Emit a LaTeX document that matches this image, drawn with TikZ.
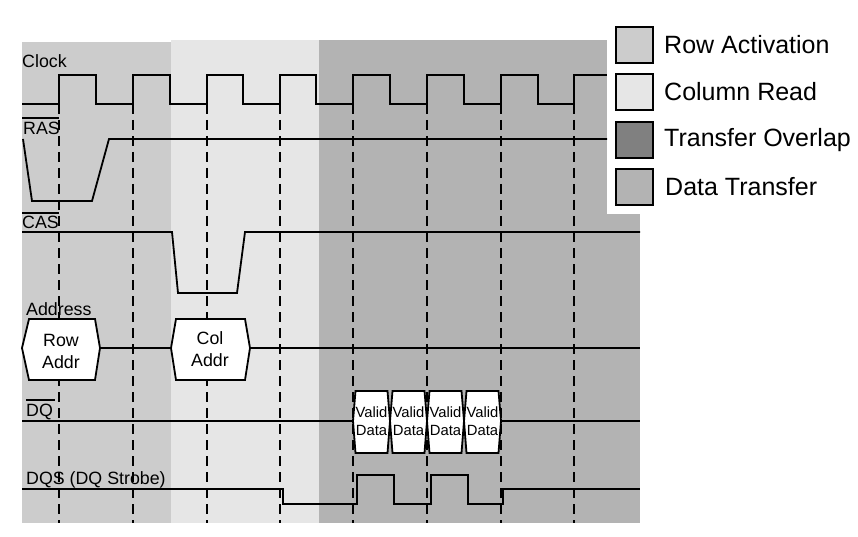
\documentclass[tikz,border=0pt]{standalone}
\usepackage{fontspec}
\setmainfont{Liberation Sans}
\definecolor{rowact}{HTML}{CCCCCC}
\definecolor{colread}{HTML}{E6E6E6}
\definecolor{overlap}{HTML}{808080}
\definecolor{datatr}{HTML}{B3B3B3}
\begin{document}
\begin{tikzpicture}[x=1pt,y=-1pt,
  sig/.style={line width=1.8pt, line join=miter},
  dsh/.style={line width=1.8pt, dash pattern=on 10pt off 6pt},
  lbl/.style={font=\fontsize{17.8}{20}\selectfont, inner sep=0pt, anchor=base west},
  ovl/.style={line width=1.2pt},
  busbox/.style={sig, fill=white},
  bustxt/.style={font=\fontsize{17.8}{22}\selectfont, align=center, inner sep=0pt},
  dtxt/.style={font=\fontsize{14.8}{18}\selectfont, align=center, inner sep=0pt},
  legbox/.style={draw, line width=2pt, minimum width=37pt, minimum height=36pt, inner sep=0pt},
  legtxt/.style={font=\fontsize{25}{30}\selectfont, anchor=west, inner sep=0pt}]
\useasboundingbox (0,0) rectangle (858,537);
\fill[white] (0,0) rectangle (858,537);
% phase backgrounds
\fill[rowact] (22,42) rectangle (171,523);
\fill[colread] (171,40) rectangle (319,523);
\fill[datatr] (319,40) rectangle (640,523);
% legend background
\fill[white] (607,0) rectangle (858,214);
% dashed clock edge markers
\foreach \x in {59,133,207,280,353,427,501,574}
  \draw[dsh] (\x,104) -- (\x,523);
% Clock
\node[lbl] (lclk) at (22,68) {Clock};
\draw[sig] (22,104) -- (59,104) -- (59,75) -- (96,75) -- (96,104) -- (133,104) -- (133,75) -- (170,75) -- (170,104)
  -- (207,104) -- (207,75) -- (243,75) -- (243,104) -- (280,104) -- (280,75) -- (316,75) -- (316,104)
  -- (353,104) -- (353,75) -- (390,75) -- (390,104) -- (427,104) -- (427,75) -- (464,75) -- (464,104)
  -- (501,104) -- (501,75) -- (538,75) -- (538,104) -- (574,104) -- (574,75) -- (607,75);
% RAS
\node[lbl] (lras) at (23,135) {RAS};
\draw[ovl] (22,118) -- (59,118);
\draw[sig] (23,139) -- (32,201) -- (92,201) -- (109,139) -- (607,139);
% CAS
\node[lbl] (lcas) at (22,228) {CAS};
\draw[ovl] (22,213) -- (59,213);
\draw[sig] (22,232) -- (172,232) -- (178,293) -- (237,293) -- (245,232) -- (640,232);
% Address
\node[lbl] (laddr) at (26,315) {Address};
\draw[sig] (100,348) -- (171,348);
\draw[sig] (250,348) -- (640,348);
\draw[busbox] (22,348) -- (29,319) -- (95,319) -- (100,348) -- (95,380) -- (29,380) -- cycle;
\node[bustxt] (rowaddr) at (61,351) {Row\\Addr};
\draw[busbox] (171,348) -- (176,319) -- (245,319) -- (250,348) -- (245,380) -- (176,380) -- cycle;
\node[bustxt] (coladdr) at (210,349) {Col\\Addr};
% DQ
\node[lbl] (ldq) at (26,416) {DQ};
\draw[ovl] (26,400) -- (55,400);
\draw[sig] (22,421) -- (353,421);
\draw[sig] (501,421) -- (640,421);
\foreach \a/\b [count=\i] in {353/390,390/427,427/464,464/501}{
  \draw[busbox] (\a,421) -- (\a+2.5,391) -- (\b-2.5,391) -- (\b,421) -- (\b-2.5,453) -- (\a+2.5,453) -- cycle;
  \node[dtxt] (vd\i) at ({(\a+\b)/2},421) {Valid\\Data};
}
% DQS
\node[lbl] (ldqs) at (26,484) {DQS (DQ Strobe)};
\draw[sig] (22,489) -- (283,489) -- (283,504) -- (357,504) -- (357,475) -- (394,475) -- (394,504) -- (431,504)
  -- (431,475) -- (468,475) -- (468,504) -- (503,504) -- (503,489) -- (640,489);
% legend
\node[legbox, fill=rowact] (lg1) at (634.5,45) {};
\node[legtxt] (lt1) at (664,45) {Row Activation};
\node[legbox, fill=colread] (lg2) at (634.5,92) {};
\node[legtxt] (lt2) at (664,92) {Column Read};
\node[legbox, fill=overlap] (lg3) at (634.5,140) {};
\node[legtxt] (lt3) at (664,140) {Transfer Overlap};
\node[legbox, fill=datatr] (lg4) at (634.5,187) {};
\node[legtxt] (lt4) at (665,187) {Data Transfer};
\end{tikzpicture}
\end{document}
